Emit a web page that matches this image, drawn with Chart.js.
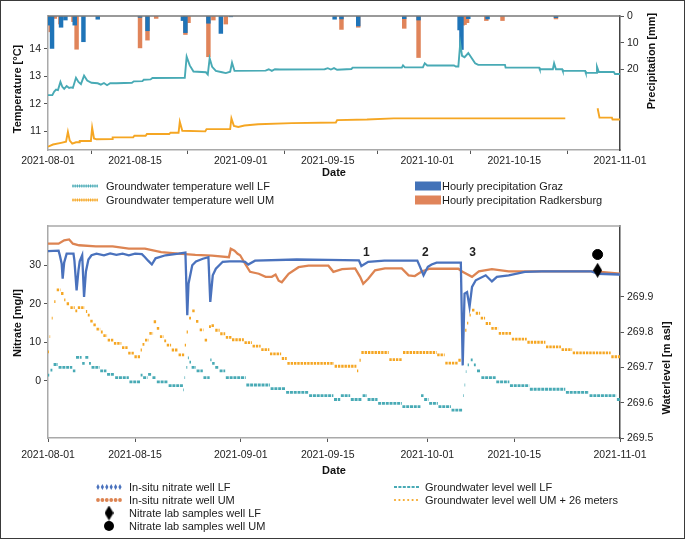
<!DOCTYPE html>
<html>
<head>
<meta charset="utf-8">
<script src="https://cdn.jsdelivr.net/npm/chart.js@4.4.1/dist/chart.umd.min.js"></script>
<style>
  body { margin: 0; background: #fff; }
  #frame { position: relative; width: 685px; height: 539px; overflow: hidden; font-family: "Liberation Sans", Arial, sans-serif; background: #fff; }
  #border { position: absolute; left: 0; top: 0; width: 685px; height: 539px; box-sizing: border-box; border: 1.5px solid #3a3a3a; pointer-events: none; }
  canvas.cv { position: absolute; left: 0; }
  .mk { position: absolute; }
  .lt { position: absolute; font-size: 11px; line-height: 14px; color: #1a1a1a; white-space: nowrap; }
</style>
</head>
<body>
<div id="frame">
  <canvas id="topChart" class="cv" width="685" height="182" style="top:0px"></canvas>
  <canvas id="bottomChart" class="cv" width="685" height="270" style="top:215px"></canvas>
  <div id="legends"></div>
  <div id="border"></div>
</div>
<script>
// x axis: days since 2021-08-01
const xTickDays = [0, 14, 31, 45, 61, 75, 92];
const xTickLabels = ['2021-08-01', '2021-08-15', '2021-09-01', '2021-09-15', '2021-10-01', '2021-10-15', '2021-11-01'];
const tempTicks = [11, 12, 13, 14];
const precipTicks = [0, 10, 20];
const nitrateTicks = [0, 10, 20, 30];
const levelTicks = [269.5, 269.6, 269.7, 269.8, 269.9];

// groundwater temperature [°C]  [day, value]
const tempLF = [[0,12.32],[0.7,12.32],[1.0,12.45],[1.3,12.52],[1.6,12.5],[2.0,12.8],[2.3,12.62],[2.6,12.55],[3.0,12.65],[3.4,12.58],[3.7,12.6],[4.0,12.58],[4.5,12.95],[4.9,12.8],[5.3,12.72],[5.8,13.03],[6.3,12.85],[7.0,12.77],[8.0,12.75],[8.5,12.7],[9.0,12.76],[9.5,12.68],[10.0,12.75],[11.0,12.75],[13.5,12.77],[13.8,12.82],[15.2,12.83],[15.4,12.88],[16.5,12.89],[16.8,12.94],[22.0,12.95],[22.3,13.72],[22.8,13.4],[23.4,13.18],[25.4,13.15],[25.7,13.07],[26.0,13.66],[26.4,13.35],[27.0,13.2],[28.0,13.15],[28.6,13.12],[29.3,13.17],[29.6,13.5],[30.0,13.2],[35.0,13.21],[35.5,13.26],[36.0,13.2],[36.5,13.26],[37.3,13.25],[44.5,13.26],[45,13.3],[45.5,13.25],[46,13.3],[46.5,13.24],[48.8,13.27],[49,13.32],[56.9,13.32],[57.1,13.4],[57.4,13.33],[60.3,13.33],[60.6,13.48],[61.0,13.4],[65.3,13.4],[65.6,13.36],[66.0,13.36],[66.3,14.2],[66.6,13.75],[67.0,13.7],[67.6,13.85],[68.7,13.48],[69.2,13.42],[73.5,13.42],[73.6,13.32],[79.0,13.32],[79.1,13.26],[81.2,13.26],[81.4,13.48],[81.7,13.26],[82.7,13.26],[82.8,13.2],[86.4,13.2],[86.5,13.13],[88.2,13.13],[88.3,13.35],[88.6,13.16],[91.0,13.16],[91.2,13.09],[92,13.09]];
const tempUM = [[0,10.44],[0.8,10.52],[2.1,10.58],[2.9,10.62],[3.2,10.98],[3.5,10.66],[3.9,10.55],[4.5,10.6],[5.0,10.6],[5.1,10.65],[6.9,10.65],[7.1,11.13],[7.4,10.74],[7.8,10.71],[10.3,10.72],[10.4,10.78],[13.7,10.78],[13.9,10.84],[15.7,10.84],[15.9,10.9],[19.5,10.9],[19.7,10.95],[21.0,10.95],[21.2,11.35],[21.6,11.02],[25.3,11.0],[25.5,11.08],[29.3,11.08],[29.5,11.47],[29.9,11.2],[30.6,11.16],[31.6,11.21],[33.8,11.26],[39.2,11.3],[46.3,11.32],[46.5,11.41],[51.3,11.43],[55.6,11.47],[83.2,11.47],[83.3,null],[88.4,11.84],[88.7,11.5],[90.7,11.5],[90.8,11.43],[92,11.43]];

// hourly precipitation [mm]  [day, value]
const precipGraz = [[0.2,3.4],[0.65,12.1],[2.1,4.2],[2.8,1.5],[4.3,3.4],[5.7,9.6],[8.0,1.2],[14.8,0.5],[16.0,5.5],[21.7,1.7],[22.1,6.2],[25.8,2.7],[27.8,6.5],[29.4,0.3],[46.1,1.2],[47.2,1.1],[49.9,3.7],[57.3,1.0],[59.6,1.5],[66.2,5.2],[66.5,12.5],[67.6,1.0],[70.7,1.1],[81.7,0.6]];
const precipRad = [[0.45,5.9],[1.1,0.9],[2.0,3.0],[4.1,2.1],[4.6,12.4],[14.8,11.9],[16.0,9.0],[17.4,0.9],[22.1,6.9],[22.6,2.5],[25.8,15.2],[26.6,1.5],[28.6,3.0],[47.2,5.0],[49.9,4.2],[57.3,4.6],[59.6,15.5],[66.7,3.4],[67.0,3.2],[67.4,2.5],[70.5,1.7],[73.1,1.7],[81.7,1.1]];

// in-situ nitrate [mg/l]  [day, value]
const nitrateLF = [[0,33.7],[1.7,33.8],[1.9,32.6],[2.2,30.4],[2.36,26.5],[2.6,30.7],[3.0,33.0],[4.1,33.0],[4.25,31.2],[4.6,23.5],[4.9,28.7],[5.1,31.0],[5.5,32.6],[5.8,21.8],[6.1,28.4],[6.5,31.5],[7.0,32.6],[7.8,33.0],[9,32.6],[10,33.1],[11,32.7],[12,33.0],[13,32.6],[14,33.0],[15.1,32.9],[15.6,32.1],[16.1,31.2],[16.7,30.2],[17.3,31.8],[18.9,32.6],[21.0,33.0],[22.1,33.3],[22.4,17.0],[22.6,25.2],[23.2,30.0],[23.8,31.0],[24.9,31.7],[25.8,32.1],[26.1,20.5],[26.5,27.4],[27.0,29.1],[28.1,30.9],[29.2,31.0],[31.0,31.0],[31.7,30.9],[32.2,30.2],[33.3,31.2],[40,31.5],[45,31.4],[50.0,31.3],[50.4,29.8],[51.5,30.9],[54.1,31.2],[59.4,31.2],[59.7,30.1],[60.4,27.4],[61.1,29.6],[61.7,30.2],[62.5,30.7],[66.4,30.7],[66.7,4.0],[67.0,22.6],[67.4,23.0],[67.8,19.2],[68.2,24.4],[68.8,26.1],[70.4,27.4],[71.4,25.8],[72.2,27.0],[74.1,27.4],[76.7,28.3],[79.4,28.4],[87.4,28.4],[88.5,27.8],[91.8,27.6],[92,27.6]];
const nitrateUM = [[0,35.6],[1.7,35.6],[2.6,36.5],[3.4,36.7],[4.0,35.6],[5.0,35.2],[7.7,34.9],[10.4,34.9],[13,34.3],[15.6,34.3],[18.2,33.4],[21,33.0],[23.7,32.7],[26.4,32.5],[29.1,32.1],[29.4,34.3],[30.0,33.8],[30.5,33.0],[30.9,32.6],[31.7,30.4],[32.5,28.3],[33.9,27.8],[35,27.0],[36,27.0],[36.6,27.6],[37.1,26.0],[37.6,25.6],[38.7,27.8],[40.3,29.5],[41.9,29.9],[45.1,29.9],[45.9,28.3],[47.3,29.0],[49.4,29.2],[50.2,27.0],[50.7,25.2],[51.5,26.5],[52.6,28.7],[54.2,29.2],[56.9,29.2],[58,27.4],[59,27.2],[60.1,28.4],[61.4,29.1],[66,29.1],[66.6,28.4],[68.2,27.0],[69.3,28.4],[71.4,29.0],[74.1,28.4],[88,28.4],[92,27.8]];

// nitrate lab samples [day, value]
const labLF = [[88.4, 28.7]];
const labUM = [[88.4, 32.8]];

// groundwater level [m asl]  [startDay, endDay, value]
const levelLF = [[0,0.2,269.678],[0.4,0.7,269.692],[0.9,1.6,269.708],[1.7,3.9,269.7],[4.0,4.4,269.69],[4.5,5.4,269.728],[5.5,5.9,269.711],[6.0,6.5,269.728],[6.6,6.9,269.711],[7.0,8.3,269.7],[8.4,9.4,269.69],[9.5,10.7,269.68],[10.8,13.0,269.671],[13.1,14.8,269.659],[14.9,15.2,269.678],[15.3,16.0,269.671],[16.1,16.7,269.68],[16.8,17.4,269.671],[17.5,19.3,269.659],[19.4,21.7,269.648],[21.75,21.85,269.636],[21.95,22.05,269.671],[22.25,22.4,269.7],[22.5,22.65,269.727],[22.75,23.0,269.715],[23.1,23.8,269.7],[23.9,24.9,269.69],[25.0,26.0,269.671],[26.1,26.3,269.721],[26.4,26.8,269.711],[26.9,27.5,269.7],[27.6,28.5,269.69],[28.6,31.8,269.671],[31.9,35.7,269.65],[35.8,38.2,269.64],[38.3,41.9,269.629],[42.0,45.9,269.62],[46.0,47.0,269.609],[47.1,48.6,269.62],[48.7,50.5,269.609],[50.6,51.3,269.62],[51.4,53.0,269.609],[53.1,56.9,269.598],[57.0,59.9,269.589],[60.0,60.4,269.62],[60.5,61.2,269.609],[61.3,62.7,269.598],[62.8,64.8,269.589],[64.9,66.6,269.579],[66.75,66.85,269.62],[67.0,67.1,269.65],[67.2,67.3,269.688],[67.5,67.7,269.707],[68.0,68.3,269.721],[68.5,68.8,269.707],[69.0,69.5,269.69],[69.7,72.0,269.671],[72.1,74.2,269.659],[74.3,77.4,269.648],[77.5,83.2,269.638],[83.3,87.0,269.629],[87.1,91.4,269.62],[91.5,92,269.609]];
const levelUM = [[0,0.15,269.744],[0.25,0.35,269.787],[0.6,0.75,269.839],[1.0,1.2,269.886],[1.4,2.0,269.919],[2.1,2.5,269.909],[2.6,2.8,269.891],[3.0,3.4,269.88],[3.6,4.3,269.869],[4.4,4.7,269.86],[4.8,5.9,269.869],[6.1,6.3,269.858],[6.4,6.7,269.848],[6.8,7.2,269.831],[7.3,7.7,269.82],[7.8,8.4,269.808],[8.5,8.8,269.8],[8.9,9.5,269.79],[9.6,10.5,269.777],[10.6,11.8,269.768],[11.9,12.8,269.756],[12.9,13.8,269.74],[13.9,14.8,269.73],[14.9,15.1,269.749],[15.2,15.5,269.765],[15.6,16.2,269.777],[16.3,16.9,269.796],[17.0,17.4,269.829],[17.5,17.9,269.81],[18.0,18.6,269.787],[18.7,19.0,269.775],[19.1,19.8,269.763],[19.9,20.9,269.749],[21.0,21.9,269.735],[22.0,22.2,269.763],[22.3,22.5,269.8],[22.7,23.0,269.839],[23.2,23.7,269.86],[23.8,24.3,269.83],[24.4,25.0,269.806],[25.2,25.7,269.777],[25.9,26.2,269.815],[26.3,26.8,269.818],[26.9,27.6,269.805],[27.7,28.5,269.795],[28.6,29.5,269.785],[29.6,31.5,269.778],[31.6,32.8,269.77],[32.9,34.2,269.76],[34.3,35.6,269.75],[35.7,37.5,269.738],[37.6,38.4,269.725],[38.5,46.0,269.711],[46.1,49.6,269.703],[49.7,49.9,269.69],[50.1,50.3,269.72],[50.4,54.8,269.742],[54.9,57.0,269.722],[57.1,62.5,269.742],[62.6,63.8,269.735],[63.9,65.9,269.712],[66.0,66.5,269.72],[66.6,66.7,269.745],[66.8,66.9,269.782],[67.1,67.3,269.805],[67.4,67.6,269.825],[67.8,68.0,269.848],[68.2,68.7,269.862],[68.8,69.5,269.853],[69.6,70.3,269.839],[70.4,71.2,269.824],[71.3,72.4,269.81],[72.5,74.5,269.796],[74.6,77.0,269.78],[77.1,80.0,269.771],[80.1,82.5,269.758],[82.6,84.3,269.75],[84.4,90.5,269.741],[90.6,92,269.73]];

// event markers in the nitrate panel
const eventDays = [51.2, 60.7, 68.3];
const eventLabels = ['1', '2', '3'];

const FONT = '"Liberation Sans", Arial, sans-serif';
const C_TEAL = '#48aab5', C_GOLD = '#f5a623', C_BLUE = '#1f74b8', C_RED = '#e0845a';
const C_NBLUE = '#4a72bd', C_NORANGE = '#dd8452';

function pts(arr) { return arr.map(function (p) { return { x: p[0], y: p[1] }; }); }
function segs(arr) {
    var out = [];
    arr.forEach(function (s) {
        out.push({ x: s[0], y: s[2] }, { x: s[1], y: s[2] }, { x: s[1], y: null });
    });
    return out;
}
function fixTicks(list) { return function (s) { s.ticks = list.map(function (v) { return { value: v }; }); }; }

// tall diamond used for the lab sample marker
function tallDiamond(w, h) {
    var c = document.createElement('canvas');
    c.width = w; c.height = h;
    var g = c.getContext('2d');
    g.fillStyle = '#000';
    g.beginPath(); g.moveTo(w / 2, 0); g.lineTo(w, h / 2); g.lineTo(w / 2, h); g.lineTo(0, h / 2); g.closePath(); g.fill();
    return c;
}

const panelDecor = {
    id: 'panelDecor',
    afterDraw: function (chart, args, opts) {
        var a = chart.chartArea, ctx = chart.ctx;
        ctx.save();
        ctx.strokeStyle = opts.topColor; ctx.lineWidth = 1.5;
        ctx.beginPath(); ctx.moveTo(a.left, a.top); ctx.lineTo(a.right, a.top); ctx.stroke();
        ctx.fillStyle = '#111';
        ctx.font = 'bold 11px ' + FONT;
        ctx.textAlign = 'center'; ctx.textBaseline = 'middle';
        (opts.titles || []).forEach(function (t) {
            ctx.save();
            ctx.translate(t.side === 'left' ? a.left + t.dx : a.right + t.dx, a.top + t.dy);
            ctx.rotate(-Math.PI / 2);
            ctx.fillText(t.text, 0, 0);
            ctx.restore();
        });
        if (opts.events) {
            ctx.font = 'bold 12px ' + FONT;
            ctx.fillStyle = '#222';
            var x = chart.scales.x, y = chart.scales[opts.events.axis];
            eventDays.forEach(function (d, i) {
                ctx.fillText(eventLabels[i], x.getPixelForValue(d), y.getPixelForValue(opts.events.at));
            });
        }
        ctx.restore();
    }
};

function xScale(height, tickPad, titlePad) {
    return {
        type: 'linear', min: 0, max: 92, offset: false,
        afterBuildTicks: fixTicks(xTickDays),
        afterFit: function (s) { s.height = height; },
        ticks: {
            autoSkip: false, maxRotation: 0, padding: tickPad, color: '#222',
            font: { family: FONT, size: 10.5 },
            callback: function (v) { return xTickLabels[xTickDays.indexOf(v)]; }
        },
        grid: { drawOnChartArea: false, tickLength: 4, color: '#555', lineWidth: 1 },
        border: { color: '#a9a9a9', width: 1.5 },
        title: { display: true, text: 'Date', color: '#111', font: { family: FONT, size: 11, weight: 'bold' }, padding: { top: 0, bottom: titlePad } }
    };
}
function yScale(pos, min, max, ticks, width, borderColor, fmt, reverse) {
    return {
        type: 'linear', position: pos, min: min, max: max, reverse: !!reverse,
        afterBuildTicks: fixTicks(ticks),
        afterFit: function (s) { s.width = width; },
        ticks: { color: '#222', padding: 3, font: { family: FONT, size: 10.5 }, callback: fmt },
        grid: { drawOnChartArea: false, tickLength: 4, color: '#555' },
        border: { color: borderColor, width: 1.5 }
    };
}

new Chart(document.getElementById('topChart'), {
    type: 'line',
    data: {
        datasets: [
            { label: 'Groundwater temperature well LF', data: pts(tempLF), yAxisID: 'yT', borderColor: C_TEAL, borderWidth: 1.9, pointRadius: 0, spanGaps: false },
            { label: 'Groundwater temperature well UM', data: pts(tempUM), yAxisID: 'yT', borderColor: C_GOLD, borderWidth: 1.9, pointRadius: 0, spanGaps: false },
            { type: 'bar', label: 'Hourly precipitation Graz', data: pts(precipGraz), yAxisID: 'yP', backgroundColor: C_BLUE, barThickness: 3.8, grouped: false },
            { type: 'bar', label: 'Hourly precipitation Radkersburg', data: pts(precipRad), yAxisID: 'yP', backgroundColor: C_RED, barThickness: 3.8, grouped: false }
        ]
    },
    options: {
        responsive: false, animation: false,
        layout: { padding: { top: 16, left: 0, right: 0, bottom: 0 } },
        plugins: {
            legend: { display: false }, tooltip: { enabled: false },
            panelDecor: {
                topColor: '#777',
                titles: [
                    { side: 'left', dx: -30.5, dy: 73, text: 'Temperature [°C]' },
                    { side: 'right', dx: 32, dy: 45, text: 'Precipitation [mm]' }
                ]
            }
        },
        scales: {
            x: xScale(32, 1, 2),
            yT: yScale('left', 10.32, 15.2, tempTicks, 48, '#a9a9a9', function (v) { return v; }),
            yP: yScale('right', 0, 50, precipTicks, 65, '#444', function (v) { return v; }, true)
        }
    },
    plugins: [panelDecor]
});

new Chart(document.getElementById('bottomChart'), {
    type: 'line',
    data: {
        datasets: [
            { label: 'Nitrate lab samples well LF', data: pts(labLF), yAxisID: 'yN', showLine: false, pointStyle: tallDiamond(9, 15), pointRadius: 6, backgroundColor: '#000' },
            { label: 'Nitrate lab samples well UM', data: pts(labUM), yAxisID: 'yN', showLine: false, pointStyle: 'circle', pointRadius: 5, backgroundColor: '#000', borderColor: '#000' },
            { label: 'In-situ nitrate well LF', data: pts(nitrateLF), yAxisID: 'yN', borderColor: C_NBLUE, borderWidth: 2.3, pointRadius: 0 },
            { label: 'In-situ nitrate well UM', data: pts(nitrateUM), yAxisID: 'yN', borderColor: C_NORANGE, borderWidth: 2.3, pointRadius: 0 },
            { label: 'Groundwater level well LF', data: segs(levelLF), yAxisID: 'yW', borderColor: C_TEAL, borderWidth: 2.8, borderDash: [3, 0.8], pointRadius: 0, spanGaps: false },
            { label: 'Groundwater level well UM + 26 meters', data: segs(levelUM), yAxisID: 'yW', borderColor: C_GOLD, borderWidth: 2.8, borderDash: [2.4, 0.9], pointRadius: 0, spanGaps: false }
        ]
    },
    options: {
        responsive: false, animation: false,
        layout: { padding: { top: 11, left: 0, right: 0, bottom: 0 } },
        plugins: {
            legend: { display: false }, tooltip: { enabled: false },
            panelDecor: {
                topColor: '#a9a9a9',
                titles: [
                    { side: 'left', dx: -30.5, dy: 97, text: 'Nitrate [mg/l]' },
                    { side: 'right', dx: 47, dy: 142, text: 'Waterlevel [m asl]' }
                ],
                events: { axis: 'yN', at: 33.3 }
            }
        },
        scales: {
            x: xScale(47, 7, 7),
            yN: yScale('left', -14.86, 40.2, nitrateTicks, 48, '#a9a9a9', function (v) { return v; }),
            yW: yScale('right', 269.5, 270.1, levelTicks, 65, '#444', function (v) { return v.toFixed(1); })
        }
    },
    plugins: [panelDecor]
});

// legends (text as html, sample marks on small canvases)
const legendItems = [
    { x: 72, tx: 106, y: 186, kind: 'plusline', color: C_TEAL, text: 'Groundwater temperature well LF' },
    { x: 72, tx: 106, y: 200, kind: 'plusline', color: C_GOLD, text: 'Groundwater temperature well UM' },
    { x: 415, tx: 442, y: 186, kind: 'rect', color: '#4272b8', text: 'Hourly precipitation Graz' },
    { x: 415, tx: 442, y: 200, kind: 'rect', color: C_RED, text: 'Hourly precipitation Radkersburg' },
    { x: 96, tx: 129, y: 487, kind: 'diamonds', color: C_NBLUE, text: 'In-situ nitrate well LF' },
    { x: 96, tx: 129, y: 500, kind: 'dots', color: C_NORANGE, text: 'In-situ nitrate well UM' },
    { x: 96, tx: 129, y: 513, kind: 'bigdiamond', color: '#000', text: 'Nitrate lab samples well LF' },
    { x: 96, tx: 129, y: 526, kind: 'bigdot', color: '#000', text: 'Nitrate lab samples well UM' },
    { x: 393, tx: 425, y: 487, kind: 'dashes', color: C_TEAL, text: 'Groundwater level well LF' },
    { x: 393, tx: 425, y: 500, kind: 'smalldots', color: C_GOLD, text: 'Groundwater level well UM + 26 meters' }
];

function drawMark(g, kind, color, w, h) {
    g.fillStyle = color; g.strokeStyle = color;
    var cy = h / 2, i;
    if (kind === 'rect') { g.fillRect(0, cy - 4.5, w, 9); }
    if (kind === 'plusline') {
        g.lineWidth = 1; g.beginPath(); g.moveTo(0, cy); g.lineTo(w, cy); g.stroke();
        for (i = 1; i < w; i += 2.2) { g.fillRect(i - 0.5, cy - 1.5, 1, 3); }
    }
    if (kind === 'diamonds') {
        for (i = 2; i < w; i += 4.4) { g.beginPath(); g.moveTo(i, cy - 3); g.lineTo(i + 1.6, cy); g.lineTo(i, cy + 3); g.lineTo(i - 1.6, cy); g.fill(); }
    }
    if (kind === 'dots') {
        for (i = 2; i < w; i += 4.4) { g.beginPath(); g.arc(i, cy, 1.9, 0, Math.PI * 2); g.fill(); }
    }
    if (kind === 'smalldots') {
        for (i = 2; i < w; i += 4.4) { g.beginPath(); g.arc(i, cy, 1.1, 0, Math.PI * 2); g.fill(); }
    }
    if (kind === 'dashes') {
        for (i = 1; i < w; i += 4.4) { g.fillRect(i, cy - 1, 3, 2); }
    }
    if (kind === 'bigdiamond') { g.drawImage(tallDiamond(9, 15), w / 2 - 4.5, cy - 7.5); }
    if (kind === 'bigdot') { g.beginPath(); g.arc(w / 2, cy, 5, 0, Math.PI * 2); g.fill(); }
}

const box = document.getElementById('legends');
legendItems.forEach(function (it) {
    var c = document.createElement('canvas');
    c.width = 26; c.height = 16; c.className = 'mk';
    c.style.left = it.x + 'px'; c.style.top = (it.y - 8) + 'px';
    drawMark(c.getContext('2d'), it.kind, it.color, 26, 16);
    box.appendChild(c);
    var t = document.createElement('div');
    t.className = 'lt'; t.textContent = it.text;
    t.style.left = it.tx + 'px'; t.style.top = (it.y - 7) + 'px';
    box.appendChild(t);
});
</script>
</body>
</html>
